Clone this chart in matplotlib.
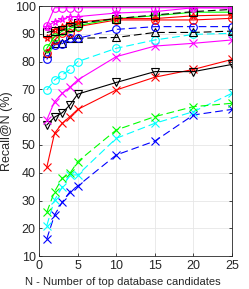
import numpy as np
import matplotlib
matplotlib.use("Agg")
import matplotlib.pyplot as plt

plt.rcParams["font.family"] = ["Liberation Sans", "DejaVu Sans"]

# ── DATA ─────────────────────────────────────────────
N = [1, 2, 3, 4, 5, 10, 15, 20, 25]

mag_o   = [93.0, 99.4, 99.4, 99.4, 99.4, 99.4, 99.4, 99.4, 99.4]
mag_st  = [92.5, 94.4, 95.3, 96.2, 96.2, 97.5, 98.0, 99.4, 99.3]
blk_sq  = [90.5, 91.1, 91.3, 92.6, 93.8, 95.5, 96.8, 98.0, 98.8]
grn_o   = [84.8, 89.0, 91.0, 92.0, 93.0, 95.5, 96.5, 97.8, 97.8]
red_st  = [88.4, 91.4, 92.6, 93.8, 94.2, 95.5, 95.5, 96.5, 96.8]
red_o   = [83.2, 87.8, 90.2, 90.4, 92.6, 95.0, 95.0, 95.0, 95.6]
blu_o   = [80.8, 86.0, 86.5, 88.4, 88.4, 91.6, 92.6, 92.6, 92.6]
blk_up  = [83.0, 86.6, 86.8, 88.4, 88.4, 88.7, 90.5, 90.5, 91.0]
cyn_o   = [69.8, 73.4, 75.2, 77.2, 80.0, 84.8, 87.8, 89.8, 90.2]
mag_x   = [59.0, 65.6, 68.6, 70.8, 73.4, 81.8, 85.6, 86.6, 87.8]
blk_dn  = [57.2, 60.0, 61.6, 64.4, 68.3, 72.5, 76.4, 76.4, 79.0]
red_x   = [42.0, 54.2, 57.8, 60.2, 62.8, 69.8, 74.4, 77.2, 80.8]
grn_x   = [25.8, 33.2, 38.0, 39.8, 44.0, 55.4, 60.2, 63.8, 65.0]
cyn_x   = [21.0, 30.2, 34.8, 39.2, 39.2, 52.4, 57.8, 62.0, 68.6]
blu_x   = [16.2, 24.8, 29.4, 33.2, 35.2, 46.4, 51.4, 60.8, 62.8]

# (values, color, linestyle, marker)
series = [
    (blu_x,  "#0000ff", "--", "x"),
    (cyn_x,  "#00ffff", "--", "x"),
    (grn_x,  "#00ff00", "--", "x"),
    (red_x,  "#ff0000", "-",  "x"),
    (blk_dn, "#000000", "-",  "v"),
    (mag_x,  "#ff00ff", "-",  "x"),
    (cyn_o,  "#00ffff", "--", "o"),
    (blk_up, "#000000", "--", "^"),
    (blu_o,  "#0000ff", "--", "o"),
    (red_o,  "#ff0000", "-",  "o"),
    (grn_o,  "#00ff00", "-",  "o"),
    (red_st, "#ff0000", "-",  "*"),
    (blk_sq, "#000000", "--", "s"),
    (mag_st, "#ff00ff", "-",  "*"),
    (mag_o,  "#ff00ff", "-",  "o"),
]

fig = plt.figure(figsize=(2.49, 2.89), dpi=100)
ax = fig.add_axes([0.157, 0.114, 0.775, 0.865])

for vals, col, ls, mk in series:
    line, = ax.plot(N, vals, color=col, linestyle=ls, marker=mk,
                    markersize=5.5, markerfacecolor="none",
                    markeredgecolor=col, markeredgewidth=0.8, lw=0.8)
    if ls == "--":
        line.set_dashes((7, 3.5))

ax.set_xlim(0, 25)
ax.set_ylim(10, 100)
ax.set_xticks([0, 5, 10, 15, 20, 25])
ax.set_yticks(np.arange(10, 101, 10))
ax.grid(True, color="#e6e6e6", lw=0.6)
ax.set_axisbelow(True)
for sp in ax.spines.values():
    sp.set_color("#262626")
    sp.set_linewidth(0.6)
ax.tick_params(labelsize=9, colors="#262626", length=2, width=0.6,
               direction="in", top=True, right=True, pad=2.5)
ax.set_xlabel("N - Number of top database candidates", fontsize=8,
              color="#262626")
ax.xaxis.set_label_coords(0.433, -0.085)
ax.set_ylabel("Recall@N (%)", fontsize=9, color="#262626", labelpad=1)

fig.savefig("out.png", dpi=100)
